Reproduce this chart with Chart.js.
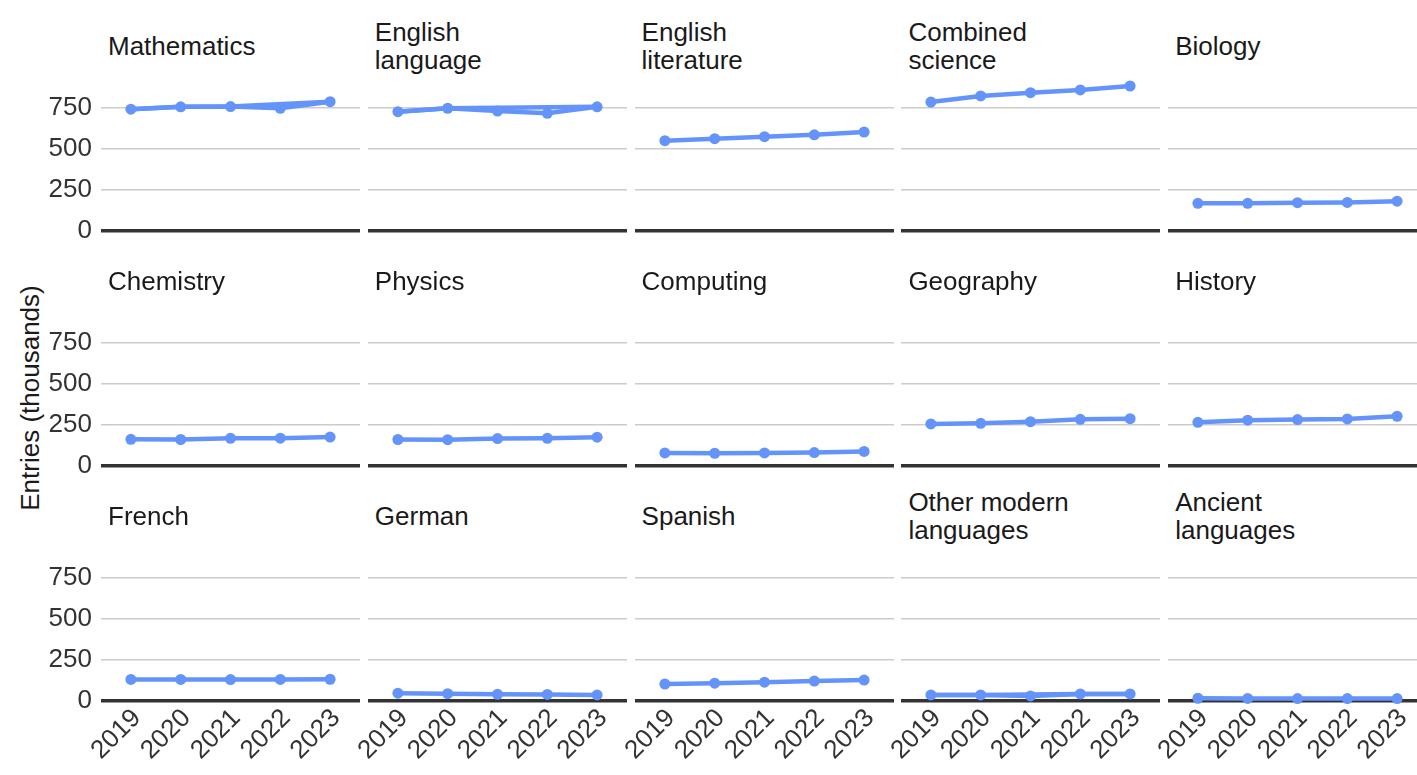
<!DOCTYPE html>
<html>
<head>
<meta charset="utf-8">
<title>GCSE entries by subject</title>
<script src="https://cdn.jsdelivr.net/npm/chart.js@4.4.0/dist/chart.umd.min.js"></script>
<style>
  body {
    margin: 0;
    width: 1417px;
    height: 775px;
    overflow: hidden;
    background: #fff;
    position: relative;
    font-family: "Liberation Sans", Arial, sans-serif;
  }
  .strip {
    position: absolute;
    height: 56px;
    display: flex;
    align-items: center;
    font-size: 26px;
    line-height: 28px;
    color: #1a1a1a;
    white-space: pre;
  }
  .panel { position: absolute; }
  #ytitle {
    position: absolute;
    left: -120px;
    top: 383px;
    width: 300px;
    height: 30px;
    line-height: 30px;
    text-align: center;
    font-size: 26px;
    color: #1a1a1a;
    transform: rotate(-90deg);
  }
</style>
</head>
<body>
<div id="ytitle">Entries (thousands)</div>

<script>
// Data (entries in thousands)
const years = [2019, 2020, 2021, 2022, 2023];
const yTicks = [0, 250, 500, 750];
const subjects = [
  "Mathematics", "English\nlanguage", "English\nliterature", "Combined\nscience", "Biology",
  "Chemistry", "Physics", "Computing", "Geography", "History",
  "French", "German", "Spanish", "Other modern\nlanguages", "Ancient\nlanguages"
];

const mathematics = [742, 757, 758, 748, 788];
const englishLanguage = [727, 748, 731, 717, 757];
const englishLiterature = [550, 562, 574, 586, 603];
const combinedScience = [786, 823, 843, 860, 884];
const biology = [167, 167, 171, 173, 180];
const chemistry = [161, 160, 167, 168, 175];
const physics = [160, 159, 166, 167, 174];
const computing = [78, 76, 78, 80, 87];
const geography = [255, 259, 269, 283, 287];
const history = [265, 278, 282, 286, 302];
const french = [130, 130, 129, 130, 131];
const german = [46, 43, 39, 38, 35];
const spanish = [102, 107, 113, 120, 126];
const otherModern = [35, 35, 29, 41, 41];
const ancient = [15, 14, 13, 13, 13];

// second (overlapping) trace seen in a few panels
const mathematicsAlt = [742, 757, 758, null, 788];
const englishLanguageAlt = [727, 748, null, null, 757];
const otherModernAlt = [35, 35, null, 41, 41];

const series = [
  mathematics, englishLanguage, englishLiterature, combinedScience, biology,
  chemistry, physics, computing, geography, history,
  french, german, spanish, otherModern, ancient
];
const altSeries = { 0: mathematicsAlt, 1: englishLanguageAlt, 13: otherModernAlt };

// Layout
const blue = "rgb(100,148,250)";
const font = { family: "'Liberation Sans', Arial, sans-serif", size: 26 };
const panelW = 259, panelH = 157;
const colLeft = (c) => 101 + c * 266.8;
const rowTop = (r) => 79 + r * 235;

// keep every panel's plot area exactly the same size
function noPadding(s) {
  s.paddingTop = 0;
  s.paddingBottom = 0;
  s.paddingLeft = 0;
  s.paddingRight = 0;
}

subjects.forEach((name, i) => {
  const r = Math.floor(i / 5);
  const c = i % 5;

  // strip title
  const strip = document.createElement("div");
  strip.className = "strip";
  strip.style.left = colLeft(c) + 7 + "px";
  strip.style.top = 18 + r * 235 + "px";
  strip.textContent = name;
  document.body.appendChild(strip);

  // panel canvas (extra room around the plot for tick labels)
  const extraLeft = c === 0 ? 101 : (r === 2 ? 60 : 0);
  const extraBottom = r === 2 ? 80 : (c === 0 ? 20 : 0);
  const wrap = document.createElement("div");
  wrap.className = "panel";
  wrap.style.left = colLeft(c) - extraLeft + "px";
  wrap.style.top = rowTop(r) + "px";
  const canvas = document.createElement("canvas");
  canvas.width = panelW + extraLeft;
  canvas.height = panelH + extraBottom;
  wrap.appendChild(canvas);
  document.body.appendChild(wrap);

  const datasets = [{
    data: series[i],
    borderColor: blue,
    backgroundColor: blue,
    borderWidth: 4.5,
    pointRadius: 5.5,
    pointBorderWidth: 0,
    clip: false
  }];
  if (altSeries[i]) {
    datasets.push({
      data: altSeries[i],
      borderColor: blue,
      borderWidth: 4.5,
      pointRadius: 0,
      spanGaps: true,
      clip: false
    });
  }

  new Chart(canvas.getContext("2d"), {
    type: "line",
    data: { datasets: datasets.map(d => ({ ...d, data: d.data.map((v, k) => ({ x: years[k], y: v })) })) },
    options: {
      responsive: false,
      animation: false,
      devicePixelRatio: 1,
      layout: { padding: 0, autoPadding: false },
      plugins: { legend: { display: false }, tooltip: { enabled: false } },
      scales: {
        x: {
          type: "linear",
          min: 2018.4,
          max: 2023.6,
          afterBuildTicks: (s) => { s.ticks = years.map(v => ({ value: v })); },
          grid: { display: false },
          border: { display: false },
          ticks: {
            display: r === 2,
            autoSkip: false,
            minRotation: 45,
            maxRotation: 45,
            padding: -11,
            labelOffset: 6,
            color: "#333",
            font: font,
            callback: (v) => String(v)
          },
          afterFit: (s) => { s.height = extraBottom; noPadding(s); }
        },
        y: {
          min: -32.4,
          max: 926.7,
          afterBuildTicks: (s) => { s.ticks = yTicks.map(v => ({ value: v })); },
          grid: {
            drawTicks: false,
            color: (ctx) => ctx.tick && ctx.tick.value === 0 ? "#333333" : "#cccccc",
            lineWidth: (ctx) => ctx.tick && ctx.tick.value === 0 ? 3.5 : 1.5
          },
          border: { display: false },
          ticks: {
            display: c === 0,
            padding: 9,
            color: "#333",
            font: font
          },
          afterFit: (s) => { s.width = extraLeft; noPadding(s); }
        }
      }
    }
  });
});
</script>
</body>
</html>
